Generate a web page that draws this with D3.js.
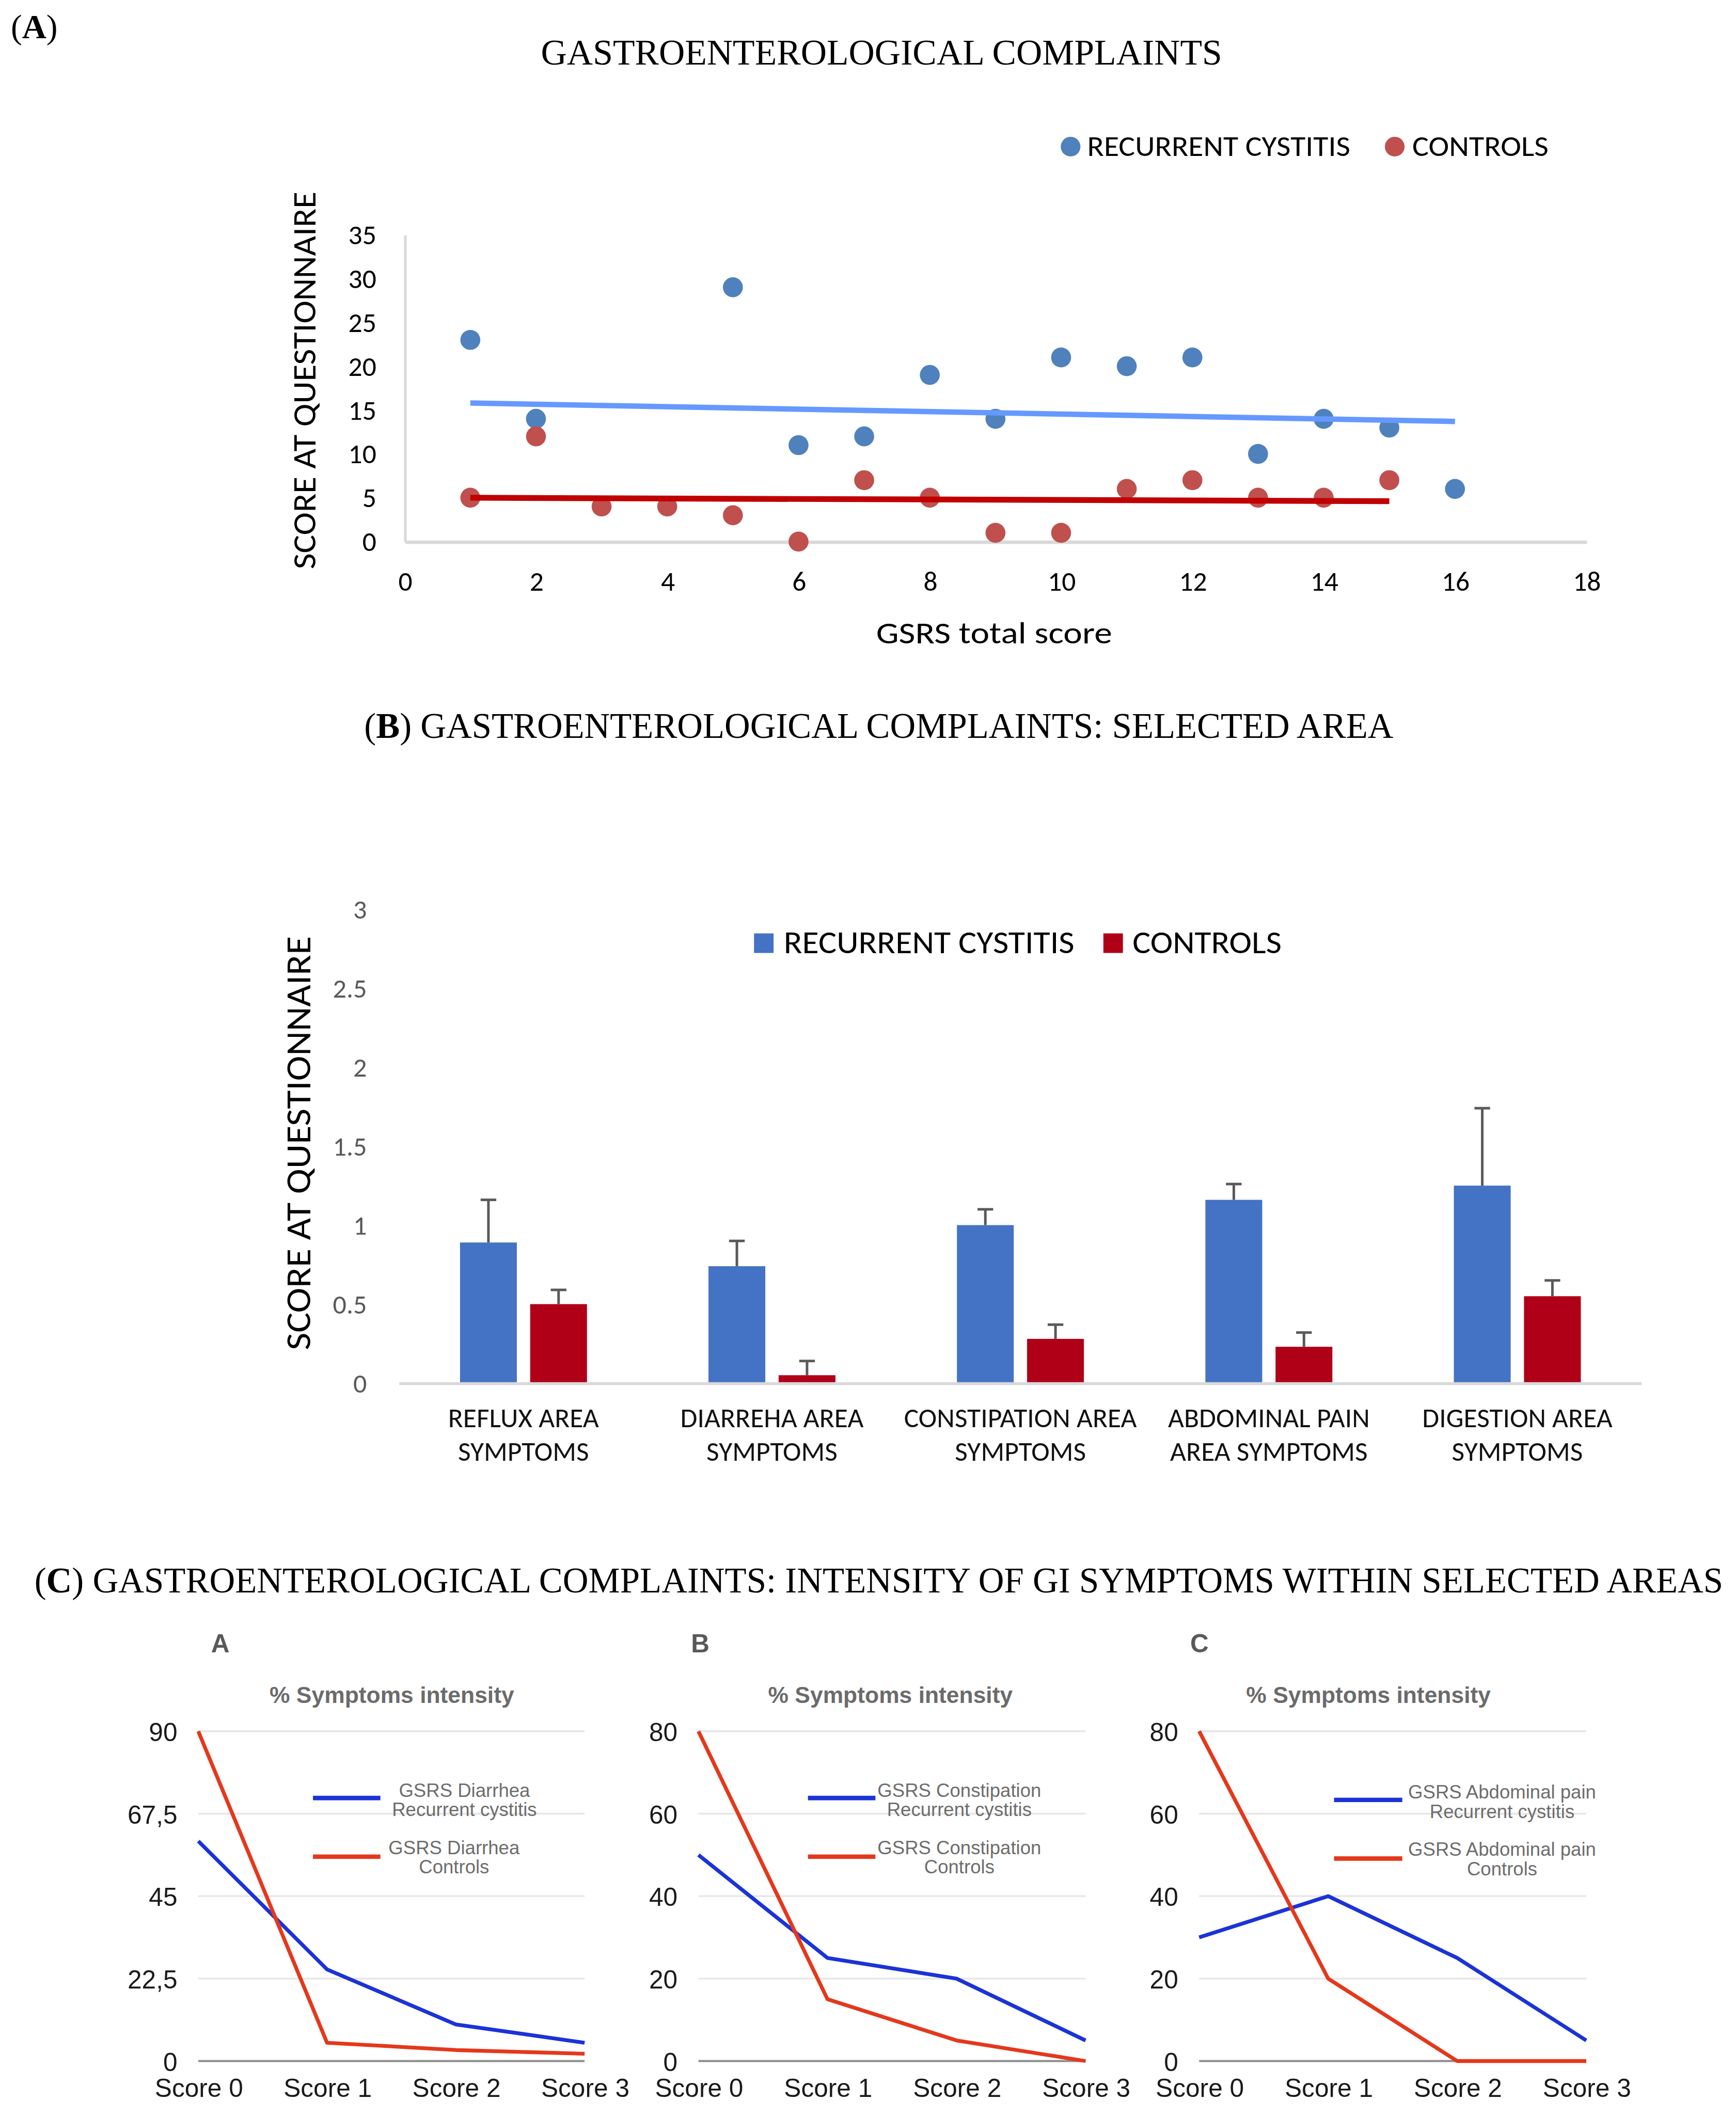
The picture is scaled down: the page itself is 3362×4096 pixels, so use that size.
<!DOCTYPE html>
<html>
<head>
<meta charset="utf-8">
<script src="https://cdn.jsdelivr.net/npm/d3@7"></script>
<style>
html,body{margin:0;padding:0;background:#fff;overflow:hidden}
svg{display:block}
</style>
</head>
<body>
<svg id="chart"></svg>
<script>
// ================= DATA =================
// (A) scatter
const recurrentX = [1,2,5,6,7,8,9,10,11,12,13,14,15,16];
const recurrentY = [23,14,29,11,12,19,14,21,20,21,10,14,13,6];
const controlsX  = [1,2,3,4,5,6,7,8,9,10,11,12,13,14,15];
const controlsY  = [5,12,4,4,3,0,7,5,1,1,6,7,5,5,7];
const trendRecurrentX = [1,16];
const trendRecurrentY = [15.8,13.7];
const trendControlsX  = [1,15];
const trendControlsY  = [5.0,4.6];
const scatterXTicks = [0,2,4,6,8,10,12,14,16,18];
const scatterYTicks = [0,5,10,15,20,25,30,35];
const seriesNames = ["RECURRENT CYSTITIS","CONTROLS"];

// (B) bars
const areaLabels = [
  ["REFLUX AREA","SYMPTOMS"],
  ["DIARREHA AREA","SYMPTOMS"],
  ["CONSTIPATION AREA","SYMPTOMS"],
  ["ABDOMINAL PAIN","AREA SYMPTOMS"],
  ["DIGESTION AREA","SYMPTOMS"]
];
const areaRecurrent    = [0.89,0.74,1.00,1.16,1.25];
const areaRecurrentErr = [0.27,0.16,0.10,0.10,0.49];
const areaControls     = [0.50,0.05,0.28,0.23,0.55];
const areaControlsErr  = [0.09,0.09,0.09,0.09,0.10];
const barYTicks = [0,0.5,1,1.5,2,2.5,3];

// (C) lines
const scoreLabels = ["Score 0","Score 1","Score 2","Score 3"];
const panelLetters = ["A","B","C"];
const intensityTitle = "% Symptoms intensity";
const intensityAreas = ["Diarrhea","Constipation","Abdominal pain"];
const diarrheaRecurrent     = [60,25,10,5];
const diarrheaControls      = [90,5,3,2];
const constipationRecurrent = [50,25,20,5];
const constipationControls  = [80,15,5,0];
const abdominalRecurrent    = [30,40,25,5];
const abdominalControls     = [80,20,0,0];
const diarrheaTicks = [0,22.5,45,67.5,90];
const otherTicks    = [0,20,40,60,80];

const titleA = "GASTROENTEROLOGICAL COMPLAINTS";
const titleB = " GASTROENTEROLOGICAL COMPLAINTS: SELECTED AREA";
const titleC = " GASTROENTEROLOGICAL COMPLAINTS: INTENSITY OF GI SYMPTOMS WITHIN SELECTED AREAS";
const yTitle = "SCORE AT QUESTIONNAIRE";
const xTitleA = "GSRS total score";

// ================= SETUP =================
const W = 1287, H = 1568;
const svg = d3.select("#chart")
  .attr("width", 3362).attr("height", 4096)
  .attr("viewBox", `0 0 ${W} ${H}`);
svg.append("rect").attr("width", W).attr("height", H).attr("fill", "#fff");

const SERIF = "'Liberation Serif','Times New Roman',serif";
const CAL   = "Carlito, Lato, 'Open Sans', sans-serif";
const HELV  = "'Liberation Sans', Arial, Helvetica, sans-serif";

function label(parent, o) {
  const t = parent.append("text")
    .attr("font-family", o.family)
    .attr("font-size", o.size)
    .attr("font-weight", o.weight || 400)
    .attr("fill", o.fill || "#000");
  if (o.parts) o.parts.forEach(p => t.append("tspan").attr("font-weight", p.b ? 700 : null).text(p.t));
  else t.text(o.text);
  const natural = t.node().getComputedTextLength();
  let w = natural;
  if (o.width) w = o.width; else if (o.condense) w = natural * o.condense;
  if (Math.abs(w - natural) > 0.01) t.attr("textLength", w).attr("lengthAdjust", "spacingAndGlyphs");
  const anchor = o.anchor || "start";
  const x0 = anchor === "middle" ? -w / 2 : anchor === "end" ? -w : 0;
  if (o.rotate) t.attr("transform", `translate(${o.x},${o.y}) rotate(${o.rotate})`).attr("x", x0).attr("y", 0);
  else t.attr("x", o.x + x0).attr("y", o.y);
  return t;
}

// ================= PANEL A =================
label(svg, {x: 8, y: 28.5, parts: [{t:"("},{t:"A",b:true},{t:")"}], size: 25, family: SERIF});
label(svg, {x: 401, y: 48, text: titleA, size: 26.5, family: SERIF, width: 505});

const colA = ["#4F81BD", "#C0504D"];
// legend
[[793.7, 806, 195], [1034, 1047, 101]].forEach((L, i) => {
  svg.append("circle").attr("cx", L[0]).attr("cy", 108.7).attr("r", 7.3).attr("fill", colA[i]);
  label(svg, {x: L[1], y: 115.6, text: seriesNames[i], size: 21, family: CAL, width: L[2]});
});

const xA = d3.scaleLinear().domain([0, 18]).range([300, 1176]);
const yA = d3.scaleLinear().domain([0, 35]).range([401.5, 174]);

const gyA = svg.append("g").attr("transform", `translate(${xA(0)},0)`)
  .call(d3.axisLeft(yA).tickValues(scatterYTicks).tickSize(0).tickPadding(21));
gyA.attr("font-family", CAL).attr("font-size", 20.5);
gyA.select(".domain").attr("stroke", "#D9D9D9").attr("stroke-width", 2);
gyA.selectAll("text").attr("fill", "#000");

const gxA = svg.append("g").attr("transform", `translate(0,${yA(0)})`)
  .call(d3.axisBottom(xA).tickValues(scatterXTicks).tickSize(0).tickPadding(22));
gxA.attr("font-family", CAL).attr("font-size", 20.5);
gxA.select(".domain").attr("stroke", "#D9D9D9").attr("stroke-width", 2.6);
gxA.selectAll("text").attr("fill", "#000");

label(svg, {x: 737, y: 477, text: xTitleA, size: 23, family: CAL, anchor: "middle", width: 175});
label(svg, {x: 233.7, y: 282, text: yTitle, size: 24, family: CAL, anchor: "middle", width: 280, rotate: -90});

const recPts = recurrentX.map((x, i) => ({x, y: recurrentY[i]}));
const conPts = controlsX.map((x, i) => ({x, y: controlsY[i]}));
svg.append("g").selectAll("circle").data(recPts).join("circle")
  .attr("cx", d => xA(d.x)).attr("cy", d => yA(d.y)).attr("r", 7.4).attr("fill", colA[0]);
svg.append("g").selectAll("circle").data(conPts).join("circle")
  .attr("cx", d => xA(d.x)).attr("cy", d => yA(d.y)).attr("r", 7.4).attr("fill", colA[1]);

const lineA = d3.line().x(d => xA(d[0])).y(d => yA(d[1]));
svg.append("path").attr("d", lineA(trendRecurrentX.map((x, i) => [x, trendRecurrentY[i]])))
  .attr("fill", "none").attr("stroke", "#6699FF").attr("stroke-width", 4);
svg.append("path").attr("d", lineA(trendControlsX.map((x, i) => [x, trendControlsY[i]])))
  .attr("fill", "none").attr("stroke", "#C00000").attr("stroke-width", 4.3);

// ================= PANEL B =================
label(svg, {x: 270, y: 547, parts: [{t:"("},{t:"B",b:true},{t:")"},{t:titleB}], size: 26.5, family: SERIF, width: 763});

const colB = ["#4472C4", "#B00018"];
[[559, 581, 215.5], [818, 839.6, 110.5]].forEach((L, i) => {
  svg.append("rect").attr("x", L[0]).attr("y", 692).attr("width", 14.5).attr("height", 14.5).attr("fill", colB[i]);
  label(svg, {x: L[1], y: 706.5, text: seriesNames[i], size: 23.5, family: CAL, width: L[2]});
});

const xB = d3.scaleBand().domain(d3.range(areaLabels.length)).range([296, 1217]);
const xB1 = d3.scaleBand().domain([0, 1]).range([0, xB.bandwidth()]).paddingInner(0.19).paddingOuter(0.866);
const yB = d3.scaleLinear().domain([0, 3]).range([1025.4, 674]);

const gyB = svg.append("g").attr("transform", `translate(296,0)`)
  .call(d3.axisLeft(yB).tickValues(barYTicks).tickSize(0).tickPadding(24).tickFormat(d => String(d)));
gyB.attr("font-family", CAL).attr("font-size", 20);
gyB.select(".domain").remove();
gyB.selectAll("text").attr("fill", "#595959");

label(svg, {x: 230, y: 847.5, text: yTitle, size: 26, family: CAL, anchor: "middle", width: 307, rotate: -90});

const barData = [];
areaLabels.forEach((_, i) => {
  barData.push({c: i, s: 0, v: areaRecurrent[i], e: areaRecurrentErr[i]});
  barData.push({c: i, s: 1, v: areaControls[i], e: areaControlsErr[i]});
});
svg.append("g").selectAll("rect").data(barData).join("rect")
  .attr("x", d => xB(d.c) + xB1(d.s)).attr("width", xB1.bandwidth())
  .attr("y", d => yB(d.v)).attr("height", d => yB(0) - yB(d.v))
  .attr("fill", d => colB[d.s]);

const eb = svg.append("g").attr("stroke", "#595959").attr("stroke-width", 1.9);
barData.forEach(d => {
  const cx = xB(d.c) + xB1(d.s) + xB1.bandwidth() / 2;
  eb.append("line").attr("x1", cx).attr("x2", cx).attr("y1", yB(d.v)).attr("y2", yB(d.v + d.e));
  eb.append("line").attr("x1", cx - 5.8).attr("x2", cx + 5.8).attr("y1", yB(d.v + d.e)).attr("y2", yB(d.v + d.e));
});

svg.append("line").attr("x1", xB.range()[0]).attr("x2", xB.range()[1])
  .attr("y1", yB(0) + 0.4).attr("y2", yB(0) + 0.4).attr("stroke", "#D9D9D9").attr("stroke-width", 2.2);

areaLabels.forEach((lines, i) => {
  lines.forEach((ln, j) => {
    label(svg, {x: xB(i) + xB.bandwidth() / 2, y: 1058 + j * 24.8, text: ln, size: 20.5, family: CAL,
      anchor: "middle", fill: "#111"});
  });
});

// ================= PANEL C =================
label(svg, {x: 25.5, y: 1180.6, parts: [{t:"("},{t:"C",b:true},{t:")"},{t:titleC}], size: 26.5, family: SERIF, width: 1252});

const subs = [
  {left: 147,   right: 433.4, letterX: 156.5, titleX: 290.5, leg: [232, 282],    tx: 344.3, txr: 336.6, dy: 0,   rec: diarrheaRecurrent,     con: diarrheaControls,     ticks: diarrheaTicks},
  {left: 517.8, right: 804.8, letterX: 512.3, titleX: 660.1, leg: [599, 649],    tx: 711.2, txr: 711.2, dy: 0,   rec: constipationRecurrent, con: constipationControls, ticks: otherTicks},
  {left: 889,   right: 1176,  letterX: 882.4, titleX: 1014.5, leg: [989, 1039.6], tx: 1113.6, txr: 1113.6, dy: 1.4, rec: abdominalRecurrent,  con: abdominalControls,    ticks: otherTicks}
];
const colC = ["#1B33D6", "#E4381C"];

subs.forEach((s, k) => {
  const g = svg.append("g");
  const xs = d3.scalePoint().domain(scoreLabels).range([s.left, s.right]).padding(0);
  const ys = d3.scaleLinear().domain([0, d3.max(s.ticks)]).range([1528, 1283.5]);

  label(g, {x: s.letterX, y: 1225, text: panelLetters[k], size: 19, weight: 700, family: HELV, fill: "#595959"});
  label(g, {x: s.titleX, y: 1262.6, text: intensityTitle, size: 17, weight: 700, family: HELV, fill: "#6b6b6b", anchor: "middle"});

  // gridlines
  g.append("g").selectAll("line").data(s.ticks.filter(t => t !== 0)).join("line")
    .attr("x1", s.left).attr("x2", s.right)
    .attr("y1", d => ys(d)).attr("y2", d => ys(d))
    .attr("stroke", "#E6E6E6").attr("stroke-width", 1.3);
  g.append("line").attr("x1", s.left).attr("x2", s.right).attr("y1", ys(0)).attr("y2", ys(0))
    .attr("stroke", "#8C8C8C").attr("stroke-width", 1.5);

  const gy = g.append("g").attr("transform", `translate(${s.left},0)`)
    .call(d3.axisLeft(ys).tickValues(s.ticks).tickSize(0).tickPadding(15.5)
      .tickFormat(d => String(d).replace(".", ",")));
  gy.attr("font-family", HELV).attr("font-size", 19);
  gy.select(".domain").remove();
  gy.selectAll("text").attr("fill", "#1a1a1a").attr("dy", "0.36em");

  const gx = g.append("g").attr("transform", `translate(0,${ys(0)})`)
    .call(d3.axisBottom(xs).tickSize(0).tickPadding(13.2));
  gx.attr("font-family", HELV).attr("font-size", 19);
  gx.select(".domain").remove();
  gx.selectAll("text").attr("fill", "#1a1a1a");

  const ln = d3.line().x((d, i) => xs(scoreLabels[i])).y(d => ys(d));
  g.append("path").attr("d", ln(s.rec)).attr("fill", "none").attr("stroke", colC[0])
    .attr("stroke-width", 2.8).attr("stroke-linejoin", "round");
  g.append("path").attr("d", ln(s.con)).attr("fill", "none").attr("stroke", colC[1])
    .attr("stroke-width", 2.8).attr("stroke-linejoin", "round");

  // legend
  const legRows = [
    {y: 1333, t1: 1332, t2: 1346.3, x: s.tx, lines: ["GSRS " + intensityAreas[k], "Recurrent cystitis"], c: colC[0]},
    {y: 1376.5, t1: 1374.5, t2: 1389, x: s.txr, lines: ["GSRS " + intensityAreas[k], "Controls"], c: colC[1]}
  ];
  legRows.forEach(r => {
    g.append("line").attr("x1", s.leg[0]).attr("x2", s.leg[1]).attr("y1", r.y + s.dy).attr("y2", r.y + s.dy)
      .attr("stroke", r.c).attr("stroke-width", 3.3);
    label(g, {x: r.x, y: r.t1 + s.dy, text: r.lines[0], size: 14, family: HELV, fill: "#6d6d6d", anchor: "middle"});
    label(g, {x: r.x, y: r.t2 + s.dy, text: r.lines[1], size: 14, family: HELV, fill: "#6d6d6d", anchor: "middle"});
  });
});
</script>
</body>
</html>
